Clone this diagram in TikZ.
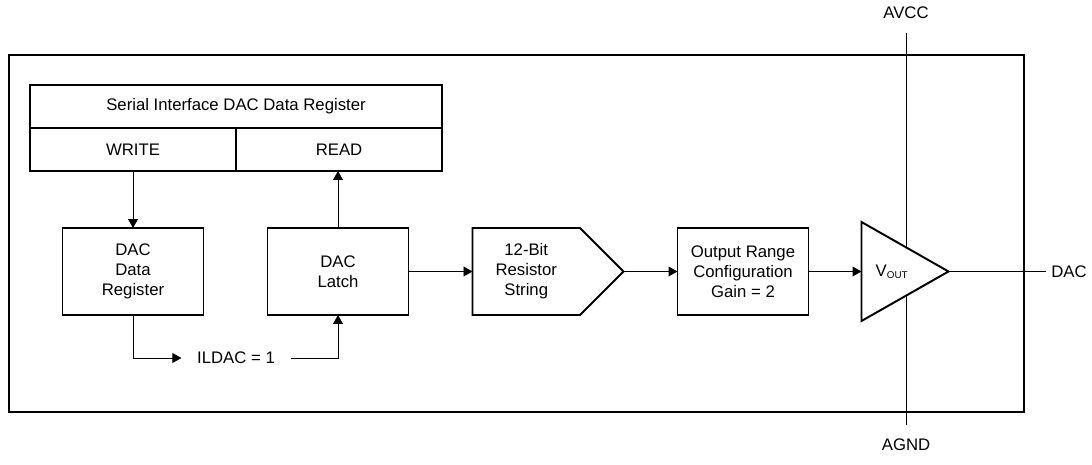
\documentclass[tikz,border=0pt]{standalone}
\usepackage{fontspec}
\setmainfont{Liberation Sans}
\usetikzlibrary{arrows.meta,positioning,shapes.geometric,shapes.symbols}

\begin{document}
\begin{tikzpicture}[
  box/.style={draw, line width=1.4pt, minimum width=3.525cm,
    minimum height=2.175cm, align=center, outer sep=0pt},
  cell/.style={draw, line width=1.4pt, minimum height=1.075cm,
    outer sep=0pt},
  resist/.style={box, shape=signal, signal to=east,
    signal pointer angle=90, minimum width=3.775cm},
  amp/.style={draw, line width=1.4pt, fill=white, isosceles triangle,
    isosceles triangle stretches, minimum width=2.475cm,
    minimum height=2.175cm, outer sep=0pt, inner sep=0pt},
  arr/.style={-{Triangle[length=6.4pt, width=7pt]}, line width=0.7pt},
  wire/.style={line width=0.7pt},
  pin/.style={inner ysep=10pt},
  font=\fontsize{11.9}{14.2}\selectfont,
]
\useasboundingbox (0,0) rectangle (27.3,11.6);

% Device outline
\draw[line width=1.6pt] (0.225,1.3) rectangle (25.6,10.225);

% Supply rails
\node[pin] (avcc) at (22.65,11.275) {AVCC};
\node[pin] (agnd) at (22.65,0.475) {AGND};
\draw[wire] (avcc) -- (agnd);

% Serial interface register
\node[cell, minimum width=10.3cm] (sidr) at (5.9,8.9375)
  {Serial Interface DAC Data Register};
\node[cell, minimum width=5.15cm,
  below right=0pt and 0pt of sidr.south west] (write) {WRITE};
\node[cell, minimum width=5.15cm,
  below left=0pt and 0pt of sidr.south east] (read) {READ};

% Signal chain
\node[box, below=1.425cm of write] (dreg) {DAC\\Data\\Register};
\node[box, right=1.6cm of dreg] (latch) {DAC\\Latch};
\node[resist, right=1.6cm of latch] (rstring)
  {12-Bit\\Resistor\\String};
\node[box, minimum width=3.275cm, right=1.35cm of rstring] (orange)
  {Output Range\\Configuration\\Gain = 2};
\node[amp, right=1.325cm of orange] (amp)
  {V\raisebox{-0.25ex}{\scriptsize OUT}};
\node[right=2.425cm of amp, inner sep=4pt] (dac) {DAC};
\node[inner xsep=11pt] (ildac) at (5.9,2.65) {ILDAC = 1};

\draw[arr] (dreg.north |- write.south) -- (dreg.north);
\draw[arr] (latch.north) -- (latch.north |- read.south);
\draw[arr] (dreg.south) |- (ildac.west);
\draw[arr] (ildac.east) -| (latch.south);
\draw[arr] (latch.east) -- (rstring.west);
\draw[arr] (rstring.east) -- (orange.west);
\draw[arr] (orange.east) -- (amp.west);
\draw[wire] (amp.east) -- (dac.west);

\end{tikzpicture}
\end{document}
